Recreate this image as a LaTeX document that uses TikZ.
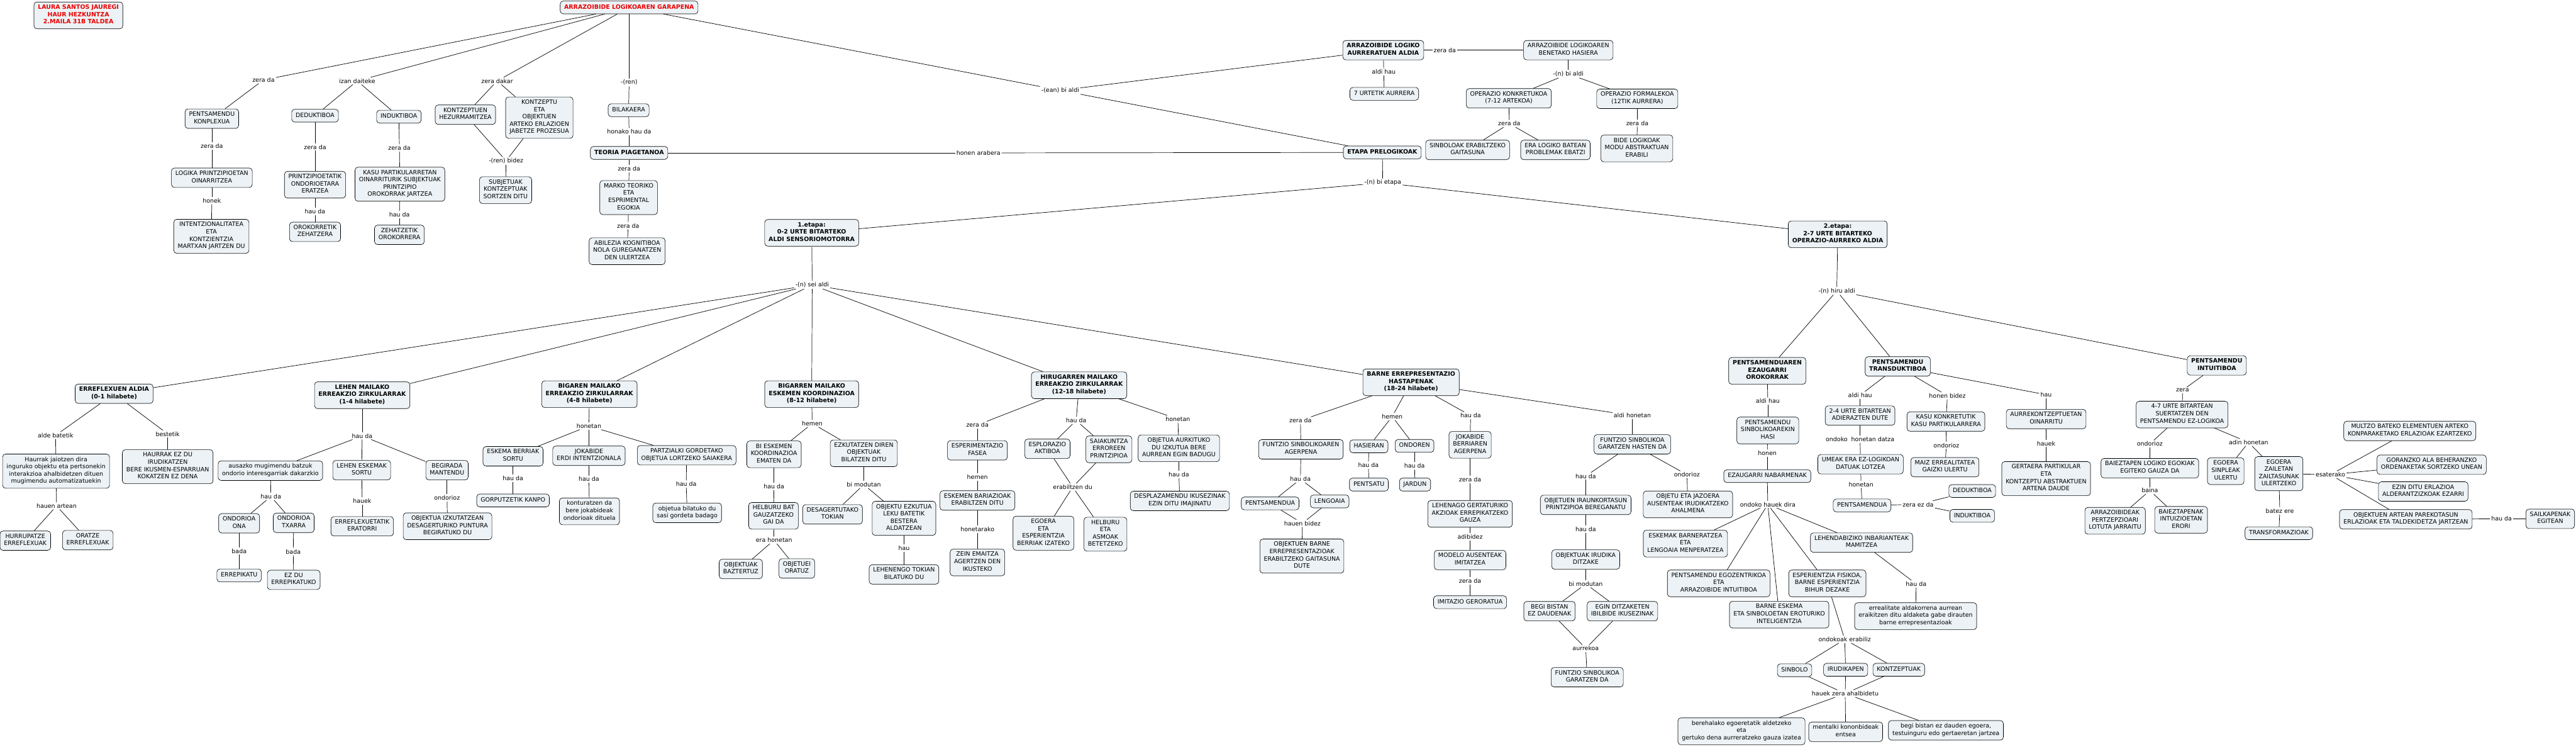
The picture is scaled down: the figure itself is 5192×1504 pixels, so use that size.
\documentclass[tikz,border=0pt]{standalone}
\usepackage{fontspec}
\setmainfont{DejaVu Sans}
\newcommand\mapfont{\fontsize{12}{14.7}\selectfont}
\definecolor{boxfill}{RGB}{236,242,245}
\definecolor{titlered}{RGB}{235,0,0}
\tikzset{
 box/.style={draw=black, line width=0.8pt, fill=boxfill, rounded corners=6pt, align=center, font=\mapfont, inner xsep=8pt, inner ysep=5.6pt, execute at begin node=\strut, execute at end node=\strut},
 bbox/.style={box, font=\mapfont\bfseries},
 rbox/.style={bbox, text=titlered},
 lab/.style={font=\mapfont, inner sep=2.5pt},
 conn/.style={line width=0.9pt, draw=black},
}
\begin{document}
\begin{tikzpicture}[x=1pt,y=-1pt]
\useasboundingbox[fill=white] (0,0) rectangle (5192,1504);
% ---------- top
\node[rbox] (n0) at (158,31) {LAURA SANTOS JAUREGI\\HAUR HEZKUNTZA\\2.MAILA 31B TALDEA};
\node[rbox] (title) at (1268,15) {ARRAZOIBIDE LOGIKOAREN GARAPENA};
\node[lab] (l1) at (531,161) {zera da};
\node[lab] (l2) at (720,163) {izan daiteke};
\node[lab] (l3) at (1002,163) {zera dakar};
\node[lab] (l4) at (1268,166) {-(ren)};
\node[lab] (l5) at (2137,182) {-(ean) bi aldi};
\node[box] (pk) at (427,239) {PENTSAMENDU\\KONPLEXUA};
\node[box] (ded) at (635,233) {DEDUKTIBOA};
\node[box] (ind) at (804,235) {INDUKTIBOA};
\node[box] (kh) at (938,231) {KONTZEPTUEN\\HEZURMAMITZEA};
\node[box] (ke) at (1087,237) {KONTZEPTU\\ETA\\OBJEKTUEN\\ARTEKO ERLAZIOEN\\JABETZE PROZESUA};
\node[box] (bil) at (1267,222) {BILAKAERA};
\node[lab] (l6) at (1268,265) {honako hau da};
\node[bbox] (teo) at (1268,308) {TEORIA PIAGETANOA};
\node[lab] (l7) at (1268,340) {zera da};
\node[box] (mar) at (1267,398) {MARKO TEORIKO\\ETA\\ESPRIMENTAL\\EGOKIA};
\node[lab] (l8) at (1266,455) {zera da};
\node[box] (abi) at (1264,506) {ABILEZIA KOGNITIBOA\\NOLA GUREGANATZEN\\DEN ULERTZEA};
\node[lab] (l9) at (427,294) {zera da};
\node[box] (lpo) at (427,358) {LOGIKA PRINTZIPIOETAN\\OINARRITZEA};
\node[lab] (l10) at (427,404) {honek};
\node[box] (intz) at (426,476) {INTENTZIONALITATEA\\ETA\\KONTZIENTZIA\\MARTXAN JARTZEN DU};
\node[lab] (l11) at (635,296) {zera da};
\node[box] (pri) at (635,372) {PRINTZIPIOETATIK\\ONDORIOETARA\\ERATZEA};
\node[lab] (l12) at (635,426) {hau da};
\node[box] (oro) at (635,467) {OROKORRETIK\\ZEHATZERA};
\node[lab] (l13) at (805,298) {zera da};
\node[box] (kas) at (806,371) {KASU PARTIKULARRETAN\\OINARRITURIK SUBJEKTUAK\\PRINTZIPIO\\OROKORRAK JARTZEA};
\node[lab] (l14) at (805,432) {hau da};
\node[box] (zeh) at (805,473) {ZEHATZETIK\\OROKORRERA};
\node[lab] (l15) at (1020,324) {-(ren) bidez};
\node[box] (sub) at (1019,383) {SUBJETUAK\\KONTZEPTUAK\\SORTZEN DITU};
% ---------- right top
\node[bbox] (aur) at (2788,101) {ARRAZOIBIDE LOGIKO\\AURRERATUEN ALDIA};
\node[lab] (l16) at (2912,101) {zera da};
\node[box] (ben) at (3161,101) {ARRAZOIBIDE LOGIKOAREN\\BENETAKO HASIERA};
\node[lab] (l17) at (2789,145) {aldi hau};
\node[box] (u7) at (2790,189) {7 URTETIK AURRERA};
\node[lab] (l18) at (3161,149) {-(n) bi aldi};
\node[box] (opk) at (3041,198) {OPERAZIO KONKRETUKOA\\(7-12 ARTEKOA)};
\node[box] (opf) at (3300,199) {OPERAZIO FORMALEKOA\\(12TIK AURRERA)};
\node[lab] (l19) at (3042,249) {zera da};
\node[lab] (l20) at (3300,248) {zera da};
\node[box] (sinb) at (2958,302) {SINBOLOAK ERABILTZEKO\\GAITASUNA};
\node[box] (era) at (3135,302) {ERA LOGIKO BATEAN\\PROBLEMAK EBATZI};
\node[box] (bide) at (3299,299) {BIDE LOGIKOAK\\MODU ABSTRAKTUAN\\ERABILI};
\node[bbox] (etp) at (2786,307) {ETAPA PRELOGIKOAK};
\node[lab] (l21) at (1972,308) {honen arabera};
\node[lab] (l22) at (2787,368) {-(n) bi etapa};
\node[bbox] (et1) at (1636,469) {1.etapa:\\0-2 URTE BITARTEKO\\ALDI SENSORIOMOTORRA};
\node[bbox] (et2) at (3704,472) {2.etapa:\\2-7 URTE BITARTEKO\\OPERAZIO-AURREKO ALDIA};
\node[lab] (l23) at (1637,574) {-(n) sei aldi};
\node[lab] (l24) at (3702,586) {-(n) hiru aldi};
% ---------- stage 1
\node[bbox] (erf) at (230,793) {ERREFLEXUEN ALDIA\\(0-1 hilabete)};
\node[lab] (l25) at (112,877) {alde batetik};
\node[lab] (l26) at (338,874) {bestetik};
\node[box] (hj) at (113,949) {Haurrak jaiotzen dira\\inguruko objektu eta pertsonekin\\interakzioa ahalbidetzen dituen\\mugimendu automatizatuekin};
\node[box] (hez) at (338,940) {HAURRAK EZ DU\\IRUDIKATZEN\\BERE IKUSMEN-ESPARRUAN\\KOKATZEN EZ DENA};
\node[lab] (l27) at (114,1019) {hauen artean};
\node[box] (hur) at (51,1089) {HURRUPATZE\\ERREFLEXUAK};
\node[box] (ora) at (177,1088) {ORATZE\\ERREFLEXUAK};
\node[bbox] (lm) at (730,796) {LEHEN MAILAKO\\ERREAKZIO ZIRKULARRAK\\(1-4 hilabete)};
\node[lab] (l28) at (730,878) {hau da};
\node[box] (aus) at (545,948) {ausazko mugimendu batzuk\\ondorio interesgarriak dakarzkio};
\node[box] (les) at (729,947) {LEHEN ESKEMAK\\SORTU};
\node[box] (beg) at (901,947) {BEGIRADA\\MANTENDU};
\node[lab] (l29) at (546,1000) {hau da};
\node[lab] (l30) at (730,1009) {hauek};
\node[lab] (l31) at (901,1003) {ondorioz};
\node[box] (ona) at (482,1054) {ONDORIOA\\ONA};
\node[box] (txa) at (592,1053) {ONDORIOA\\TXARRA};
\node[lab] (l32) at (482,1110) {bada};
\node[lab] (l33) at (591,1111) {bada};
\node[box] (erre) at (482,1159) {ERREPIKATU};
\node[box] (ezdu) at (592,1168) {EZ DU\\ERREPIKATUKO};
\node[box] (erat) at (730,1060) {ERREFLEXUETATIK\\ERATORRI};
\node[box] (obiz) at (902,1060) {OBJEKTUA IZKUTATZEAN\\DESAGERTURIKO PUNTURA\\BEGIRATUKO DU};
\node[bbox] (bgm) at (1188,794) {BIGAREN MAILAKO\\ERREAKZIO ZIRKULARRAK\\(4-8 hilabete)};
\node[lab] (l34) at (1187,858) {honetan};
\node[box] (esb) at (1034,919) {ESKEMA BERRIAK\\SORTU};
\node[box] (jok) at (1187,918) {JOKABIDE\\ERDI INTENTZIONALA};
\node[box] (par) at (1384,917) {PARTZIALKI GORDETAKO\\OBJETUA LORTZEKO SAIAKERA};
\node[lab] (l35) at (1034,963) {hau da};
\node[lab] (l36) at (1187,965) {hau da};
\node[lab] (l37) at (1383,975) {hau da};
\node[box] (gor) at (1034,1008) {GORPUTZETIK KANPO};
\node[box] (kon) at (1188,1030) {konturatzen da\\bere jokabideak\\ondorioak dituela};
\node[box] (obb) at (1385,1033) {objetua bilatuko du\\sasi gordeta badago};
\node[bbox] (bgr) at (1636,794) {BIGARREN MAILAKO\\ESKEMEN KOORDINAZIOA\\(8-12 hilabete)};
\node[lab] (l38) at (1637,853) {hemen};
\node[box] (bie) at (1560,915) {BI ESKEMEN\\KOORDINAZIOA\\EMATEN DA};
\node[box] (ezk) at (1741,913) {EZKUTATZEN DIREN\\OBJEKTUAK\\BILATZEN DITU};
\node[lab] (l39) at (1560,980) {hau da};
\node[lab] (l40) at (1741,976) {bi modutan};
\node[box] (hel) at (1559,1039) {HELBURU BAT\\GAUZATZEKO\\GAI DA};
\node[lab] (l41) at (1560,1088) {era honetan};
\node[box] (baz) at (1493,1146) {OBJEKTUAK\\BAZTERTUZ};
\node[box] (orat) at (1606,1145) {OBJETUEI\\ORATUZ};
\node[box] (des) at (1678,1036) {DESAGERTUTAKO\\TOKIAN};
\node[box] (obe) at (1822,1044) {OBJEKTU EZKUTUA\\LEKU BATETIK\\BESTERA\\ALDATZEAN};
\node[lab] (l42) at (1822,1104) {hau};
\node[box] (leh) at (1822,1157) {LEHENENGO TOKIAN\\BILATUKO DU};
\node[bbox] (hir) at (2175,776) {HIRUGARREN MAILAKO\\ERREAKZIO ZIRKULARRAK\\(12-18 hilabete)};
\node[lab] (l43) at (1970,856) {zera da};
\node[lab] (l44) at (2169,847) {hau da};
\node[lab] (l45) at (2374,844) {honetan};
\node[box] (esp) at (1970,907) {ESPERIMENTAZIO\\FASEA};
\node[lab] (l46) at (1970,961) {hemen};
\node[box] (esk) at (1970,1008) {ESKEMEN BARIAZIOAK\\ERABILTZEN DITU};
\node[lab] (l47) at (1970,1066) {honetarako};
\node[box] (zein) at (1970,1133) {ZEIN EMAITZA\\AGERTZEN DEN\\IKUSTEKO};
\node[box] (exp) at (2111,904) {ESPLORAZIO\\AKTIBOA};
\node[box] (sai) at (2235,905) {SAIAKUNTZA\\ERROREEN\\PRINTZIPIOA};
\node[lab] (l48) at (2162,981) {erabiltzen du};
\node[box] (egb) at (2103,1074) {EGOERA\\ETA\\ESPERIENTZIA\\BERRIAK IZATEKO};
\node[box] (hba) at (2228,1076) {HELBURU\\ETA\\ASMOAK\\BETETZEKO};
\node[box] (obau) at (2376,903) {OBJETUA AURKITUKO\\DU IZKUTUA BERE\\AURREAN EGIN BADUGU};
\node[lab] (l49) at (2376,956) {hau da};
\node[box] (dpl) at (2378,1009) {DESPLAZAMENDU IKUSEZINAK\\EZIN DITU IMAJINATU};
\node[bbox] (bar) at (2844,770) {BARNE ERREPRESENTAZIO\\HASTAPENAK\\(18-24 hilabete)};
\node[lab] (l50) at (2621,847) {zera da};
\node[lab] (l51) at (2806,839) {hemen};
\node[lab] (l52) at (2964,837) {hau da};
\node[lab] (l53) at (3290,837) {aldi honetan};
\node[box] (fsa) at (2622,905) {FUNTZIO SINBOLIKOAREN\\AGERPENA};
\node[lab] (l54) at (2621,965) {hau da};
\node[box] (pen1) at (2560,1014) {PENTSAMENDUA};
\node[box] (lng) at (2680,1010) {LENGOAIA};
\node[lab] (l55) at (2625,1054) {hauen bidez};
\node[box] (obr) at (2624,1120) {OBJEKTUEN BARNE\\ERREPRESENTAZIOAK\\ERABILTZEKO GAITASUNA\\DUTE};
\node[box] (has) at (2759,899) {HASIERAN};
\node[box] (ond) at (2851,898) {ONDOREN};
\node[lab] (l56) at (2758,937) {hau da};
\node[lab] (l57) at (2851,938) {hau da};
\node[box] (pnt) at (2759,976) {PENTSATU};
\node[box] (jar) at (2852,976) {JARDUN};
\node[box] (jbe) at (2963,896) {JOKABIDE\\BERRIAREN\\AGERPENA};
\node[lab] (l58) at (2963,966) {zera da};
\node[box] (lhg) at (2963,1035) {LEHENAGO GERTATURIKO\\AKZIOAK ERREPIKATZEKO\\GAUZA};
\node[lab] (l59) at (2963,1081) {adibidez};
\node[box] (mod) at (2963,1128) {MODELO AUSENTEAK\\IMITATZEA};
\node[lab] (l60) at (2963,1170) {zera da};
\node[box] (imi) at (2963,1213) {IMITAZIO GERORATUA};
\node[box] (fsh) at (3290,895) {FUNTZIO SINBOLIKOA\\GARATZEN HASTEN DA};
\node[lab] (l61) at (3196,959) {hau da};
\node[lab] (l62) at (3400,956) {ondorioz};
\node[box] (oip) at (3196,1017) {OBJETUEN IRAUNKORTASUN\\PRINTZIPIOA BEREGANATU};
\node[box] (oja) at (3402,1016) {OBJETU ETA JAZOERA\\AUSENTEAK IRUDIKATZEKO\\AHALMENA};
\node[lab] (l63) at (3196,1066) {hau da};
\node[box] (oid) at (3196,1127) {OBJEKTUAK IRUDIKA\\DITZAKE};
\node[lab] (l64) at (3196,1176) {bi modutan};
\node[box] (bgb) at (3123,1231) {BEGI BISTAN\\EZ DAUDENAK};
\node[box] (egd) at (3270,1231) {EGIN DITZAKETEN\\IBILBIDE IKUSEZINAK};
\node[lab] (l65) at (3196,1306) {aurrekoa};
\node[box] (fsg) at (3199,1364) {FUNTZIO SINBOLIKOA\\GARATZEN DA};
% ---------- stage 2
\node[bbox] (pez) at (3562,747) {PENTSAMENDUAREN\\EZAUGARRI\\OROKORRAK};
\node[lab] (l66) at (3563,808) {aldi hau};
\node[box] (psh) at (3563,867) {PENTSAMENDU\\SINBOLIKOAREKIN\\HASI};
\node[lab] (l67) at (3562,913) {honen};
\node[box] (ezn) at (3562,959) {EZAUGARRI NABARMENAK};
\node[lab] (l68) at (3563,1016) {ondoko hauek dira};
\node[box] (ebl) at (3397,1095) {ESKEMAK BARNERATZEA\\ETA\\LENGOAIA MENPERATZEA};
\node[box] (lin) at (3752,1093) {LEHENDABIZIKO INBARIANTEAK\\MAMITZEA};
\node[box] (peg) at (3464,1175) {PENTSAMENDU EGOZENTRIKOA\\ETA\\ARRAZOIBIDE INTUITIBOA};
\node[box] (efi) at (3683,1175) {ESPERIENTZIA FISIKOA,\\BARNE ESPERIENTZIA\\BIHUR DEZAKE};
\node[box] (bes) at (3586,1238) {BARNE ESKEMA\\ETA SINBOLOETAN EROTURIKO\\INTELIGENTZIA};
\node[lab] (l69) at (3862,1176) {hau da};
\node[box] (err) at (3861,1241) {errealitate aldakorrena aurrean\\eraikitzen ditu aldaketa gabe dirauten\\barne errepresentazioak};
\node[lab] (l70) at (3718,1288) {ondokoak erabiliz};
\node[box] (sbo) at (3617,1350) {SINBOLO};
\node[box] (iru) at (3720,1349) {IRUDIKAPEN};
\node[box] (kzp) at (3827,1349) {KONTZEPTUAK};
\node[lab] (l71) at (3719,1397) {hauek zera ahalbidetu};
\node[box] (ber) at (3510,1473) {berehalako egoeretatik aldetzeko\\eta\\gertuko dena aurreratzeko gauza izatea};
\node[box] (men) at (3720,1474) {mentalki kononbideak\\entsea};
\node[box] (bgi) at (3922,1471) {begi bistan ez dauden egoera,\\testuinguru edo gertaeretan jartzea};
\node[bbox] (tran) at (3825,738) {PENTSAMENDU\\TRANSDUKTIBOA};
\node[lab] (l72) at (3749,796) {aldi hau};
\node[box] (u24) at (3749,837) {2-4 URTE BITARTEAN\\ADIERAZTEN DUTE};
\node[lab] (l73) at (3749,885) {ondoko\ \ honetan datza};
\node[box] (ume) at (3750,935) {UMEAK ERA EZ-LOGIKOAN\\DATUAK LOTZEA};
\node[lab] (l74) at (3751,976) {honetan};
\node[box] (pen2) at (3753,1018) {PENTSAMENDUA};
\node[lab] (l75) at (3866,1016) {zera ez da};
\node[box] (ded2) at (3975,989) {DEDUKTIBOA};
\node[box] (ind2) at (3975,1039) {INDUKTIBOA};
\node[lab] (l76) at (3925,797) {honen bidez};
\node[box] (kkk) at (3922,849) {KASU KONKRETUTIK\\KASU PARTIKULARRERA};
\node[lab] (l77) at (3923,897) {ondorioz};
\node[box] (mai) at (3920,941) {MAIZ ERREALITATEA\\GAIZKI ULERTU};
\node[lab] (l78) at (4124,795) {hau};
\node[box] (aurk) at (4124,844) {AURREKONTZEPTUETAN\\OINARRITU};
\node[lab] (l79) at (4124,893) {hauek};
\node[box] (ger) at (4124,964) {GERTAERA PARTIKULAR\\ETA\\KONTZEPTU ABSTRAKTUEN\\ARTENA DAUDE};
\node[bbox] (int) at (4468,736) {PENTSAMENDU\\INTUITIBOA};
\node[lab] (l80) at (4399,786) {zera};
\node[box] (u47) at (4398,835) {4-7 URTE BITARTEAN\\SUERTATZEN DEN\\PENTSAMENDU EZ-LOGIKOA};
\node[lab] (l81) at (4333,894) {ondorioz};
\node[lab] (l82) at (4532,891) {adin honetan};
\node[box] (bai) at (4333,943) {BAIEZTAPEN LOGIKO EGOKIAK\\EGITEKO GAUZA DA};
\node[lab] (l83) at (4333,988) {baina};
\node[box] (arr) at (4263,1049) {ARRAZOIBIDEAK\\PERTZEPZIOARI\\LOTUTA JARRAITU};
\node[box] (bzt) at (4396,1047) {BAIEZTAPENAK\\INTUIZIOETAN\\ERORI};
\node[box] (egs) at (4486,949) {EGOERA\\SINPLEAK\\ULERTU};
\node[box] (egz) at (4593,954) {EGOERA\\ZAILETAN\\ZAILTASUNAK\\ULERTZEKO};
\node[lab] (l84) at (4595,1029) {batez ere};
\node[box] (trf) at (4593,1074) {TRANSFORMAZIOAK};
\node[lab] (l85) at (4697,956) {esaterako};
\node[box] (mul) at (4857,868) {MULTZO BATEKO ELEMENTUEN ARTEKO\\KONPARAKETAKO ERLAZIOAK EZARTZEKO};
\node[box] (gor2) at (4901,936) {GORANZKO ALA BEHERANZKO\\ORDENAKETAK SORTZEKO UNEAN};
\node[box] (ezi) at (4884,990) {EZIN DITU ERLAZIOA\\ALDERANTZIZKOAK EZARRI};
\node[box] (opa) at (4849,1046) {OBJEKTUEN ARTEAN PAREKOTASUN\\ERLAZIOAK ETA TALDEKIDETZA JARTZEAN};
\node[lab] (l86) at (5042,1045) {hau da};
\node[box] (sai2) at (5140,1045) {SAILKAPENAK\\EGITEAN};
% ---------- connectors
\foreach \a/\b in {title/l1, l1/pk, title/l2, l2/ded, l2/ind, title/l3, l3/kh, l3/ke, kh/l15, ke/l15, l15/sub,
 title/l4, l4/bil, bil/l6, l6/teo, teo/l7, l7/mar, mar/l8, l8/abi, pk/l9, l9/lpo, lpo/l10, l10/intz,
 ded/l11, l11/pri, pri/l12, l12/oro, ind/l13, l13/kas, kas/l14, l14/zeh,
 title/l5, l5/aur, l5/etp, teo/l21, l21/etp, aur/l16, l16/ben, aur/l17, l17/u7, ben/l18, l18/opk, l18/opf,
 opk/l19, l19/sinb, l19/era, opf/l20, l20/bide, etp/l22, l22/et1, l22/et2, et1/l23, et2/l24,
 l23/erf, l23/lm, l23/bgm, l23/bgr, l23/hir, l23/bar,
 erf/l25, l25/hj, erf/l26, l26/hez, hj/l27, l27/hur, l27/ora,
 lm/l28, l28/aus, l28/les, l28/beg, aus/l29, l29/ona, l29/txa, ona/l32, l32/erre, txa/l33, l33/ezdu,
 les/l30, l30/erat, beg/l31, l31/obiz,
 bgm/l34, l34/esb, l34/jok, l34/par, esb/l35, l35/gor, jok/l36, l36/kon, par/l37, l37/obb,
 bgr/l38, l38/bie, l38/ezk, bie/l39, l39/hel, hel/l41, l41/baz, l41/orat, ezk/l40, l40/des, l40/obe, obe/l42, l42/leh,
 hir/l43, l43/esp, esp/l46, l46/esk, esk/l47, l47/zein, hir/l44, l44/exp, l44/sai, exp/l48, sai/l48, l48/egb, l48/hba,
 hir/l45, l45/obau, obau/l49, l49/dpl,
 bar/l50, l50/fsa, fsa/l54, l54/pen1, l54/lng, pen1/l55, lng/l55, l55/obr, bar/l51, l51/has, l51/ond, has/l56, l56/pnt,
 ond/l57, l57/jar, bar/l52, l52/jbe, jbe/l58, l58/lhg, lhg/l59, l59/mod, mod/l60, l60/imi, bar/l53, l53/fsh,
 fsh/l61, l61/oip, fsh/l62, l62/oja, oip/l63, l63/oid, oid/l64, l64/bgb, l64/egd, bgb/l65, egd/l65, l65/fsg,
 l24/pez, l24/tran, l24/int,
 pez/l66, l66/psh, psh/l67, l67/ezn, ezn/l68, l68/ebl, l68/peg, l68/bes, l68/efi, l68/lin, lin/l69, l69/err,
 efi/l70, l70/sbo, l70/iru, l70/kzp, sbo/l71, iru/l71, kzp/l71, l71/ber, l71/men, l71/bgi,
 tran/l72, l72/u24, u24/l73, l73/ume, ume/l74, l74/pen2, pen2/l75, l75/ded2, l75/ind2, tran/l76, l76/kkk,
 kkk/l77, l77/mai, tran/l78, l78/aurk, aurk/l79, l79/ger,
 int/l80, l80/u47, u47/l81, l81/bai, bai/l83, l83/arr, l83/bzt, u47/l82, l82/egs, l82/egz, egz/l84, l84/trf,
 egz/l85, l85/mul, l85/gor2, l85/ezi, l85/opa, opa/l86, l86/sai2}
 \draw[conn] (\a) -- (\b);
\end{tikzpicture}
\end{document}
